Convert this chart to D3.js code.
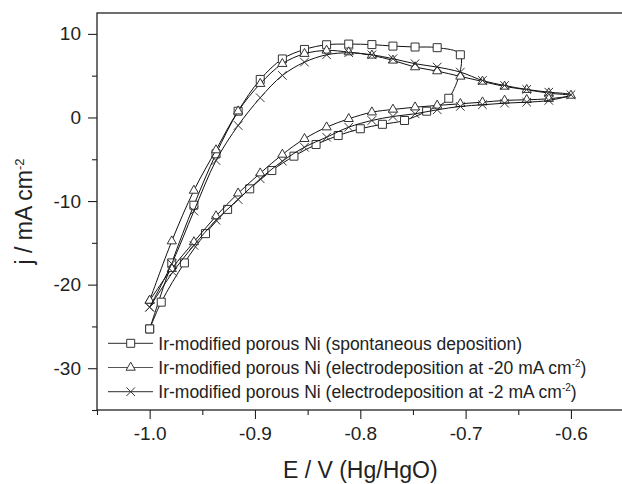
<!DOCTYPE html>
<html lang="en">
<head>
<meta charset="UTF-8">
<title>CV of Ir-modified porous Ni</title>
<script src="https://d3js.org/d3.v7.min.js"></script>
<style>
  body { margin: 0; background: #fff; }
  svg { font-family: "Liberation Sans", Arial, sans-serif; }
  .axis text { font-size: 19px; fill: #222; }
  .axis line { stroke: #222; stroke-width: 1.1; }
  .axis path { display: none; }
  .title { font-size: 23px; fill: #222; }
  .legend text { font-size: 17.5px; fill: #222; }
</style>
</head>
<body>
<div id="chart"></div>
<script>
// series: spontaneous deposition (squares)
const sqE = [-1.000, -0.979, -0.958, -0.937, -0.916, -0.895, -0.874, -0.853, -0.832, -0.811,
             -0.789, -0.769, -0.748, -0.727, -0.705, -0.716, -0.737, -0.758, -0.779, -0.800,
             -0.821, -0.842, -0.863, -0.884, -0.905, -0.926, -0.947, -0.967, -0.989, -1.000];
const sqJ = [-25.3, -17.4, -10.5, -4.35, 0.75, 4.55, 7.0, 8.14, 8.7, 8.78,
             8.72, 8.54, 8.43, 8.35, 7.5, 2.3, 0.75, -0.36, -0.82, -1.35,
             -2.16, -3.23, -4.63, -6.35, -8.54, -11.0, -13.9, -17.4, -22.1, -25.3];

// series: electrodeposition at -20 mA cm-2 (triangles)
const triE = [-1.000, -0.979, -0.958, -0.937, -0.916, -0.895, -0.874, -0.853, -0.832, -0.811,
              -0.789, -0.769, -0.748, -0.727, -0.705, -0.684, -0.663, -0.642, -0.621, -0.600,
              -0.621, -0.642, -0.663, -0.684, -0.705, -0.727, -0.748, -0.769, -0.789, -0.811,
              -0.832, -0.853, -0.874, -0.895, -0.916, -0.937, -0.958, -0.979, -1.000];
const triJ = [-21.9, -14.8, -8.74, -3.9, 0.75, 4.04, 6.43, 7.63, 8.02, 7.82,
              7.43, 6.83, 6.03, 5.55, 4.91, 4.31, 3.71, 3.32, 2.91, 2.63,
              2.24, 2.12, 2.04, 1.83, 1.64, 1.44, 1.23, 0.96, 0.63, -0.16,
              -1.16, -2.55, -4.43, -6.67, -9.07, -11.8, -14.9, -18.1, -21.9];

// series: electrodeposition at -2 mA cm-2 (crosses)
const crsE = [-1.000, -0.979, -0.958, -0.937, -0.916, -0.895, -0.874, -0.853, -0.832, -0.811,
              -0.789, -0.769, -0.748, -0.727, -0.705, -0.684, -0.663, -0.642, -0.621, -0.600,
              -0.621, -0.642, -0.663, -0.684, -0.705, -0.727, -0.748, -0.769, -0.789, -0.811,
              -0.832, -0.853, -0.874, -0.895, -0.916, -0.937, -0.958, -0.978, -1.000];
const crsJ = [-22.7, -17.5, -11.2, -5.15, -0.96, 2.36, 5.03, 6.62, 7.5, 7.74,
              7.5, 7.03, 6.43, 6.03, 5.43, 4.43, 3.83, 3.35, 3.03, 2.72,
              2.04, 1.83, 1.71, 1.52, 1.32, 0.92, 0.44, 0.12, -0.36, -1.16,
              -2.36, -3.56, -5.23, -7.34, -9.82, -12.3, -15.3, -18.5, -22.7];

const seriesNames = [
  "Ir-modified porous Ni (spontaneous deposition)",
  "Ir-modified porous Ni (electrodeposition at -20 mA cm",
  "Ir-modified porous Ni (electrodeposition at -2 mA cm"
];

const xTicks = [-1.0, -0.9, -0.8, -0.7, -0.6];
const xTickLabels = ["-1.0", "-0.9", "-0.8", "-0.7", "-0.6"];
const xMinor = [-1.05, -0.95, -0.85, -0.75, -0.65, -0.55];
const yTicks = [10, 0, -10, -20, -30];
const yTickLabels = ["10", "0", "-10", "-20", "-30"];
const yMinor = [5, -5, -15, -25, -35];

const W = 622, H = 484;
const plotLeft = 97, plotTop = 13, plotRight = 623.6, plotBottom = 410;

const svg = d3.select("#chart").append("svg")
    .attr("width", W)
    .attr("height", H);

const x = d3.scaleLinear().domain([-1.05, -0.55]).range([plotLeft, plotRight]);
const y = d3.scaleLinear().domain([-35, 12.5]).range([plotBottom, plotTop]);

// axes, ticks outward
svg.append("g")
    .attr("class", "axis")
    .attr("transform", `translate(0,${plotBottom})`)
    .call(d3.axisBottom(x).tickValues(xTicks).tickSize(9).tickPadding(8)
        .tickFormat((d, i) => xTickLabels[i]));
svg.append("g")
    .attr("class", "axis")
    .attr("transform", `translate(0,${plotBottom})`)
    .call(d3.axisBottom(x).tickValues(xMinor).tickSize(5).tickFormat(""));

svg.append("g")
    .attr("class", "axis")
    .attr("transform", `translate(${plotLeft},0)`)
    .call(d3.axisLeft(y).tickValues(yTicks).tickSize(9).tickPadding(7)
        .tickFormat((d, i) => yTickLabels[i]));
svg.append("g")
    .attr("class", "axis")
    .attr("transform", `translate(${plotLeft},0)`)
    .call(d3.axisLeft(y).tickValues(yMinor).tickSize(5).tickFormat(""));

// marker shapes
const sqPath = "M-4,-4h8v8h-8z";
const triPath = "M0,-5.3L4.6,2.7L-4.6,2.7Z";
const crsPath = "M-4.3,-4.3L4.3,4.3M-4.3,4.3L4.3,-4.3";

const series = [
  { E: sqE, J: sqJ, shape: sqPath, fill: "#fff" },
  { E: triE, J: triJ, shape: triPath, fill: "#fff" },
  { E: crsE, J: crsJ, shape: crsPath, fill: "none" }
];

const line = d3.line()
    .x(d => x(d[0]))
    .y(d => y(d[1]))
    .curve(d3.curveCatmullRom.alpha(0.5));

const plot = svg.append("g");

series.forEach(function(s) {
  const pts = s.E.map((e, i) => [e, s.J[i]]);
  plot.append("path")
      .datum(pts)
      .attr("d", line)
      .attr("fill", "none")
      .attr("stroke", "#111")
      .attr("stroke-width", 1);
  plot.selectAll(null)
      .data(pts)
      .enter()
      .append("path")
      .attr("d", s.shape)
      .attr("transform", d => `translate(${x(d[0])},${y(d[1])})`)
      .attr("fill", s.fill)
      .attr("stroke", "#333")
      .attr("stroke-width", 1);
});

// frame
svg.append("rect")
    .attr("x", plotLeft)
    .attr("y", plotTop)
    .attr("width", plotRight - plotLeft)
    .attr("height", plotBottom - plotTop)
    .attr("fill", "none")
    .attr("stroke", "#222")
    .attr("stroke-width", 1.3);

// legend
const legend = svg.append("g").attr("class", "legend");
const rowY = [343.3, 367.5, 391.7];
series.forEach(function(s, i) {
  legend.append("line")
      .attr("x1", 108).attr("x2", 153)
      .attr("y1", rowY[i]).attr("y2", rowY[i])
      .attr("stroke", "#555")
      .attr("stroke-width", 1.2);
  legend.append("path")
      .attr("d", s.shape)
      .attr("transform", `translate(130.7,${rowY[i]})`)
      .attr("fill", s.fill)
      .attr("stroke", "#333");
  const t = legend.append("text")
      .attr("x", 158.3)
      .attr("y", rowY[i])
      .attr("dy", "0.36em")
      .text(seriesNames[i]);
  if (i > 0) {
    // superscript, then back to the baseline
    t.append("tspan").attr("dy", -7).style("font-size", "10px").text("-2");
    t.append("tspan").attr("dy", 7).text(")");
  }
});

// axis titles
svg.append("text")
    .attr("class", "title")
    .attr("x", (plotLeft + plotRight) / 2)
    .attr("y", 478)
    .attr("text-anchor", "middle")
    .text("E / V (Hg/HgO)");

const yl = svg.append("text")
    .attr("class", "title")
    .attr("transform", `translate(32,${(plotTop + plotBottom) / 2}) rotate(-90)`)
    .attr("text-anchor", "middle")
    .text("j / mA cm");
yl.append("tspan").attr("dy", -8).style("font-size", "13px").text("-2");
</script>
</body>
</html>
